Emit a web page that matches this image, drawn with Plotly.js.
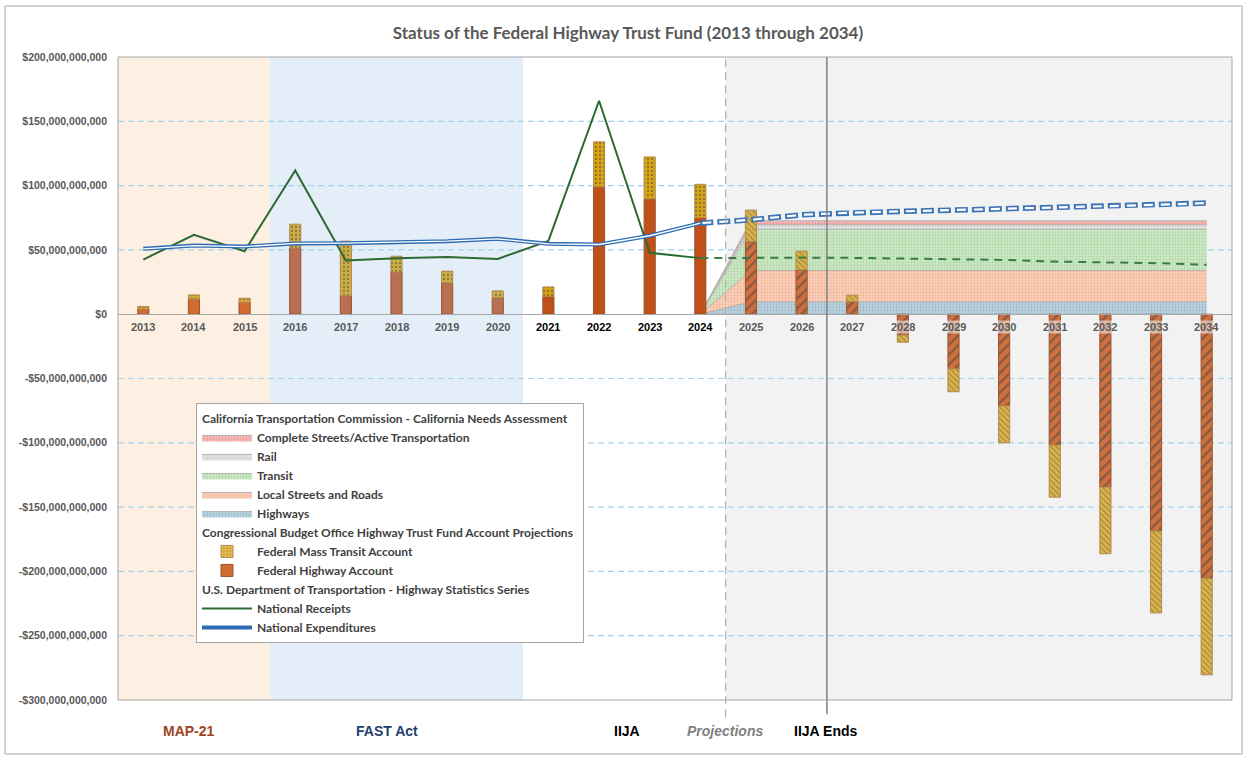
<!DOCTYPE html>
<html lang="en">
<head>
    <meta charset="UTF-8">
    <title>Status of the Federal Highway Trust Fund</title>
    <script src="https://cdn.plot.ly/plotly-3.0.1.min.js"></script>
    <style>
        body { margin: 0; background: #fff; }
        #chart { width: 1246px; height: 757px; }
    </style>
</head>
<body>
<div id="chart"></div>
<script>
    // values in billions of dollars
    var years = ['2013', '2014', '2015', '2016', '2017', '2018', '2019', '2020', '2021', '2022', '2023',
                 '2024', '2025', '2026', '2027', '2028', '2029', '2030', '2031', '2032', '2033', '2034'];

    var highwayAcct = [4, 11.7, 9.3, 51.4, 14.5, 32.7, 24.4, 12.9, 13.7, 99, 89.7,
                       75, 56.3, 34.5, 9.8, -16.3, -42.5, -71.3, -101.8, -134.4, -168.6, -205.3];
    var transitAcct = [2, 3.3, 3.1, 18.6, 42.3, 12.4, 9.1, 5.2, 7.5, 35, 32.6,
                       26, 24.6, 14.5, 5, -5.5, -17.8, -28.7, -40.5, -51.9, -63.7, -75.1];

    var histYears = ['2013', '2014', '2015', '2016', '2017', '2018', '2019', '2020', '2021', '2022', '2023', '2024'];
    var receipts = [42.5, 61.7, 49, 111.8, 41.7, 43.6, 44.4, 43, 57, 166, 47.7, 43.6];
    var expenditures = [50.8, 53.4, 52.6, 55, 55.2, 56, 56.8, 58.6, 54.7, 54.2, 61, 70.8];

    var projYears = ['2024', '2025', '2026', '2027', '2028', '2029', '2030', '2031', '2032', '2033', '2034'];
    var receiptsProj = [43.6, 44, 44, 43.8, 43.3, 43, 42.2, 40.9, 40.2, 39.7, 38.4];
    var expendituresProj = [70.8, 73.4, 77.3, 79, 80, 80.9, 81.9, 83, 83.8, 85, 86.4];

    // CTC needs assessment (stacked), same x as projYears
    var needsHighways = [0, 9.6, 9.6, 9.6, 9.6, 9.6, 9.6, 9.6, 9.6, 9.6, 9.6];
    var needsLocal = [0, 24.4, 24.4, 24.4, 24.4, 24.4, 24.4, 24.4, 24.4, 24.4, 24.4];
    var needsTransit = [0, 32.1, 32.1, 32.1, 32.1, 32.1, 32.1, 32.1, 32.1, 32.1, 32.1];
    var needsRail = [0, 3.4, 3.4, 3.4, 3.4, 3.4, 3.4, 3.4, 3.4, 3.4, 3.4];
    var needsComplete = [0, 3.1, 3.1, 3.1, 3.1, 3.1, 3.1, 3.1, 3.1, 3.1, 3.1];

    var yTicks = [200, 150, 100, 50, 0, -50, -100, -150, -200, -250, -300];

    var ctcTitle = 'California Transportation Commission - California Needs Assessment';
    var cboTitle = 'Congressional Budget Office Highway Trust Fund Account Projections';
    var dotTitle = 'U.S. Department of Transportation - Highway Statistics Series';

    var FONT = 'Lato, "Open Sans", sans-serif';
    var AXISFONT = '"Liberation Sans", Arial, sans-serif';

    function era(y) {
        var n = +y;
        if (n <= 2015) return 0;
        if (n <= 2020) return 1;
        if (n <= 2024) return 2;
        return 3;
    }

    function money(v) {
        var s = '$' + Math.abs(v * 1e9).toLocaleString('en-US');
        return v < 0 ? '-' + s : s;
    }

    function groupTitle(t) {
        return {text: t, font: {family: FONT, size: 12, weight: 700, color: '#404040'}};
    }

    function needsTrace(name, vals, bg, fg, rank) {
        return {
            x: projYears, y: vals, name: name,
            type: 'scatter', mode: 'lines', stackgroup: 'needs',
            line: {color: '#A6A6A6', width: 0.8},
            fillcolor: bg,
            fillpattern: {shape: '.', fillmode: 'overlay', fgcolor: fg, size: 3, solidity: 0.45},
            legendgroup: 'ctc', legendgrouptitle: groupTitle(ctcTitle), legendrank: rank,
            hoverinfo: 'skip'
        };
    }

    var hwColors = ['#D26B30', '#B96F52', '#C0501A', '#D0703E'];
    var trColors = ['#D8A93A', '#CDAE45', '#D8A516', '#DDB448'];

    var data = [
        needsTrace('Highways', needsHighways, '#C4D7E0', '#6F9DB4', 5),
        needsTrace('Local Streets and Roads', needsLocal, '#FAD3BF', '#F09A72', 4),
        needsTrace('Transit', needsTransit, '#D3EACC', '#8CC581', 3),
        needsTrace('Rail', needsRail, '#E8E8E8', '#B8B8B8', 2),
        needsTrace('Complete Streets/Active Transportation', needsComplete, '#F6C4C4', '#E06C6C', 1),
        {
            x: years, y: highwayAcct, name: 'Federal Highway Account',
            type: 'bar', xaxis: 'x2', yaxis: 'y2', width: 0.22,
            marker: {
                color: years.map(function(y) { return hwColors[era(y)]; }),
                line: {color: '#99532F', width: 1},
                pattern: {
                    shape: years.map(function(y) { return era(y) === 3 ? '/' : ''; }),
                    fgcolor: '#F7C9AE', size: 7, solidity: 0.35, fillmode: 'overlay'
                }
            },
            legendgroup: 'cbo', legendgrouptitle: groupTitle(cboTitle), legendrank: 11
        },
        {
            x: years, y: transitAcct, name: 'Federal Mass Transit Account',
            type: 'bar', xaxis: 'x2', yaxis: 'y2', width: 0.22,
            marker: {
                color: years.map(function(y) { return trColors[era(y)]; }),
                line: {color: '#B38B4E', width: 1},
                pattern: {
                    shape: years.map(function(y) { return era(y) === 3 ? '\\' : '.'; }),
                    fgcolor: years.map(function(y) { return era(y) === 3 ? '#F5DE90' : '#F7E9B4'; }),
                    size: 4, solidity: 0.25, fillmode: 'overlay'
                }
            },
            legendgroup: 'cbo', legendgrouptitle: groupTitle(cboTitle), legendrank: 10
        },
        {
            x: histYears, y: receipts, name: 'National Receipts',
            type: 'scatter', mode: 'lines', xaxis: 'x2', yaxis: 'y2',
            line: {color: '#2B6A30', width: 2},
            legendgroup: 'dot', legendgrouptitle: groupTitle(dotTitle), legendrank: 20
        },
        {
            x: projYears, y: receiptsProj, name: 'National Receipts (projected)',
            type: 'scatter', mode: 'lines', xaxis: 'x2', yaxis: 'y2',
            line: {color: '#3A7A44', width: 2, dash: '8px,6px'},
            legendgroup: 'dot', showlegend: false
        },
        {
            x: histYears, y: expenditures, name: 'National Expenditures',
            type: 'scatter', mode: 'lines', xaxis: 'x2', yaxis: 'y2',
            line: {color: '#2E6DB4', width: 4},
            legendgroup: 'dot', legendgrouptitle: groupTitle(dotTitle), legendrank: 21
        },
        {
            x: histYears, y: expenditures, type: 'scatter', mode: 'lines', xaxis: 'x2', yaxis: 'y2',
            line: {color: '#FFFFFF', width: 1.3}, showlegend: false, hoverinfo: 'skip'
        },
        {
            x: projYears, y: expendituresProj, name: 'National Expenditures (projected)',
            type: 'scatter', mode: 'lines', xaxis: 'x2', yaxis: 'y2',
            line: {color: '#3D76B6', width: 5.5, dash: '13px,4px'},
            legendgroup: 'dot', showlegend: false
        },
        {
            x: projYears, y: expendituresProj, type: 'scatter', mode: 'lines', xaxis: 'x2', yaxis: 'y2',
            line: {color: '#FFFFFF', width: 2.2, dash: '0px,2px,9px,6px'}, showlegend: false, hoverinfo: 'skip'
        }
    ];

    // category labels sit on the zero line, over the bars (x given as category index)
    var yearLabels = years.map(function(y, i) {
        var neg = highwayAcct[i] < 0;
        return {
            text: y, xref: 'x', yref: 'y', x: i, y: 0, yshift: -13, showarrow: false,
            bgcolor: neg ? 'rgba(245,245,245,0.55)' : 'rgba(0,0,0,0)', borderpad: 0,
            font: {family: AXISFONT, size: 11, weight: 700, color: era(y) === 2 ? '#000000' : '#595959'}
        };
    });

    var regionLabel = function(text, x, color, italic) {
        return {
            text: text, xref: 'x', yref: 'paper', x: x, y: -0.048, yanchor: 'middle', showarrow: false,
            font: {family: '"Liberation Sans Narrow", "Liberation Sans", sans-serif', size: 14, weight: 700,
                   color: color, style: italic ? 'italic' : 'normal'}
        };
    };

    // dashed grid drawn as shapes so it stays on top of the era backgrounds
    var gridShapes = yTicks.filter(function(v) { return v !== 0 && v !== 200 && v !== -300; }).map(function(v) {
        return {type: 'line', xref: 'paper', yref: 'y', x0: 0, x1: 1, y0: v, y1: v,
                line: {color: '#A3D3EC', width: 1.2, dash: '6px,4px'}, layer: 'below'};
    });

    var layout = {
        width: 1246, height: 757,
        margin: {l: 118, r: 14, t: 57, b: 57},
        paper_bgcolor: '#FFFFFF', plot_bgcolor: 'rgba(0,0,0,0)',
        title: {
            text: 'Status of the Federal Highway Trust Fund (2013 through 2034)',
            x: 0.504, xanchor: 'center', y: 0.956, yanchor: 'middle',
            font: {family: FONT, size: 17, weight: 700, color: '#595959'}
        },
        barmode: 'relative',
        xaxis: {
            type: 'category', categoryorder: 'array', categoryarray: years,
            range: [-0.5, 21.5], anchor: 'free', position: 0.6,
            showgrid: false, zeroline: false, showline: true, linecolor: '#A6A6A6', linewidth: 1,
            ticks: '', showticklabels: false
        },
        xaxis2: {
            type: 'category', categoryorder: 'array', categoryarray: years,
            range: [-0.5, 21.5], overlaying: 'x', anchor: 'y2',
            showgrid: false, zeroline: false, showline: false, showticklabels: false, ticks: ''
        },
        yaxis: {
            range: [-300, 200], tickvals: yTicks, ticktext: yTicks.map(money),
            showgrid: false, zeroline: false, showline: false, ticks: '', ticklabelstandoff: 10,
            tickfont: {family: AXISFONT, size: 10.5, weight: 700, color: '#595959'}
        },
        yaxis2: {
            range: [-300, 200], overlaying: 'y', anchor: 'x2',
            showgrid: false, zeroline: false, showline: false, showticklabels: false, ticks: ''
        },
        legend: {
            x: 0.070, y: 0.462, xanchor: 'left', yanchor: 'top',
            bgcolor: '#FFFFFF', bordercolor: '#A6A6A6', borderwidth: 1,
            traceorder: 'grouped', tracegroupgap: 0, itemwidth: 50,
            font: {family: FONT, size: 12, weight: 700, color: '#404040'}
        },
        shapes: [
            // era backgrounds
            {type: 'rect', xref: 'x', yref: 'paper', x0: -0.5, x1: 2.5, y0: 0, y1: 1,
             fillcolor: '#FDEFE2', line: {width: 0}, layer: 'below'},
            {type: 'rect', xref: 'x', yref: 'paper', x0: 2.5, x1: 7.5, y0: 0, y1: 1,
             fillcolor: '#E3EEF9', line: {width: 0}, layer: 'below'},
            {type: 'rect', xref: 'x', yref: 'paper', x0: 11.5, x1: 21.5, y0: 0, y1: 1,
             fillcolor: '#F2F2F2', line: {width: 0}, layer: 'below'}
        ].concat(gridShapes).concat([
            // projections start / IIJA ends
            {type: 'line', xref: 'x', yref: 'paper', x0: 11.5, x1: 11.5, y0: -0.027, y1: 1,
             line: {color: '#B0B0B0', width: 1.2, dash: '8px,5px'}},
            {type: 'line', xref: 'x', yref: 'paper', x0: 13.5, x1: 13.5, y0: -0.022, y1: 1,
             line: {color: '#808080', width: 1.5}},
            // plot frame
            {type: 'rect', xref: 'paper', yref: 'paper', x0: 0, x1: 1, y0: 0, y1: 1,
             line: {color: '#A6A6A6', width: 1}, fillcolor: 'rgba(0,0,0,0)'},
            // outer chart frame
            {type: 'rect', xref: 'paper', yref: 'paper', x0: -0.1014, x1: 1.009, y0: -0.084, y1: 1.0793,
             line: {color: '#A6A6A6', width: 1}, fillcolor: 'rgba(0,0,0,0)'}
        ]),
        annotations: yearLabels.concat([
            regionLabel('MAP-21', 0.9, '#A0441E'),
            regionLabel('FAST Act', 4.81, '#1F3F6B'),
            regionLabel('IIJA', 9.55, '#000000'),
            regionLabel('Projections', 11.49, '#7F7F7F', true),
            regionLabel('IIJA Ends', 13.48, '#000000')
        ])
    };

    Plotly.newPlot('chart', data, layout, {displayModeBar: false, responsive: false});
</script>
</body>
</html>
